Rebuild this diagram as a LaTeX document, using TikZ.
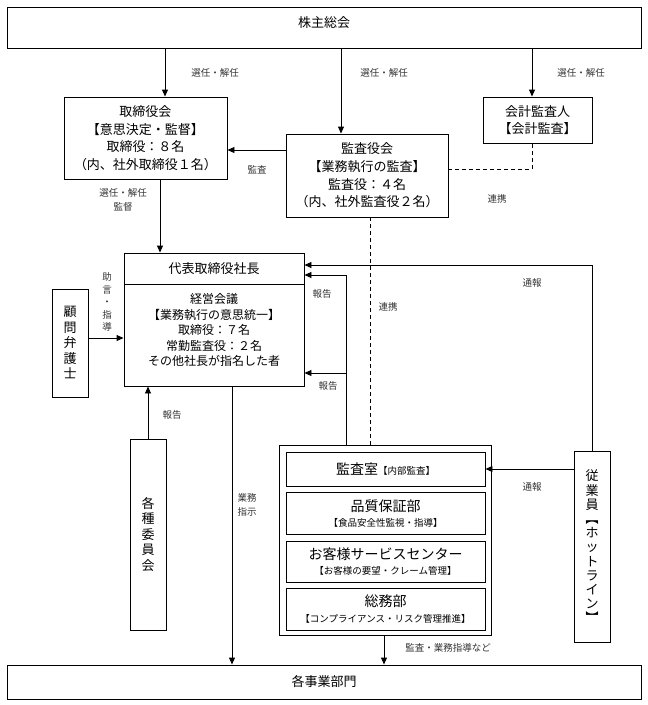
\documentclass[tikz,border=0pt]{standalone}
\usepackage{fontspec}
\setmainfont{Noto Sans CJK JP}
\usetikzlibrary{arrows.meta}
\begin{document}
\begin{tikzpicture}[x=1pt,y=-1pt,
  box/.style={draw, line width=0.9pt, inner sep=0pt, align=center},
  arr/.style={line width=0.9pt, -{Triangle[length=7pt,width=6pt]}},
  dsh/.style={line width=0.9pt, dash pattern=on 4pt off 3pt},
  big/.style={font=\fontsize{13}{17.6}\selectfont},
  mid/.style={font=\fontsize{12}{15.5}\selectfont},
  vert/.style={font=\fontsize{13}{15.5}\selectfont},
  lab/.style={font=\fontsize{9.5}{14.5}\selectfont, text=black!80, align=center, inner sep=0pt},
]
\useasboundingbox (0,0) rectangle (648,705);
\newcommand{\subtxt}[1]{{\fontsize{9.5}{12}\selectfont #1}}

% ---- boxes ----
\node[box, minimum width=634pt, minimum height=41pt] (gm) at (324,27.5) {};
\node[big, inner sep=0pt] (gmtxt) at (324,23) {株主総会};

\node[box, big, minimum width=163pt, minimum height=82pt] (tori) at (145.5,138)
  {取締役会\\【意思決定・監督】\\取締役：８名\\（内、社外取締役１名）};
\node[box, big, minimum width=162pt, minimum height=83pt] (kansa) at (367,175.5)
  {監査役会\\【業務執行の監査】\\監査役：４名\\（内、社外監査役２名）};
\node[box, big, minimum width=109pt, minimum height=46pt] (kaikei) at (537.5,120)
  {会計監査人\\【会計監査】};

\node[box, big, minimum width=180pt, minimum height=31pt] (title) at (214,268.5) {代表取締役社長};
\node[box, minimum width=180pt, minimum height=102pt] (mtg) at (214,335) {};
\node[mid, align=center, inner sep=0pt] (mtgtxt) at (214,330)
  {経営会議\\【業務執行の意思統一】\\取締役：７名\\常勤監査役：２名\\その他社長が指名した者};

\node[box, vert, minimum width=36pt, minimum height=108pt] (komon) at (70,343)
  {顧\\問\\弁\\護\\士};
\node[box, vert, minimum width=36pt, minimum height=191pt] (iinkai) at (148,534.5)
  {各\\種\\委\\員\\会};
\node[box, font=\fontsize{13}{14.2}\selectfont, minimum width=36pt, minimum height=191pt] (jugyo) at (592,546.5)
  {従\\業\\員\\︻\\ホ\\ッ\\ト\\ラ\\イ\\ン\\︼};

\node[box, minimum width=212pt, minimum height=190pt] (grp) at (385,540) {};
\node[box, minimum width=199pt, minimum height=34pt, font=\fontsize{14}{15}\selectfont] (d1) at (385.5,469)
  {監査室\subtxt{【内部監査】}};
\node[box, minimum width=199pt, minimum height=42pt, font=\fontsize{14}{15.5}\selectfont] (d2) at (385.5,513.5)
  {品質保証部\\\subtxt{【食品安全性監視・指導】}};
\node[box, minimum width=199pt, minimum height=41pt, font=\fontsize{14}{15.5}\selectfont] (d3) at (385.5,561.5)
  {お客様サービスセンター\\\subtxt{【お客様の要望・クレーム管理】}};
\node[box, minimum width=199pt, minimum height=42pt, font=\fontsize{14}{15.5}\selectfont] (d4) at (385.5,609)
  {総務部\\\subtxt{【コンプライアンス・リスク管理推進】}};

\node[box, minimum width=634pt, minimum height=34pt, font=\fontsize{13}{15}\selectfont] (bottom) at (324,682) {各事業部門};

% ---- reference coordinates ----
\coordinate (xA) at (165,0);
\coordinate (xB) at (341,0);
\coordinate (xC) at (532,0);
\coordinate (xD) at (160,0);
\coordinate (xE) at (370,0);
\coordinate (xF) at (346,0);
\coordinate (xI) at (232,0);
\coordinate (xJ) at (384,0);
\coordinate (yK) at (0,150);
\coordinate (yL) at (0,169);
\coordinate (yM) at (0,338);
\coordinate (yN) at (0,265);
\coordinate (yO) at (0,275);
\coordinate (yP) at (0,373);

% ---- connectors ----
\draw[arr] (gm.south -| xA) -- (tori.north -| xA);
\draw[arr] (gm.south -| xB) -- (kansa.north -| xB);
\draw[arr] (gm.south -| xC) -- (kaikei.north -| xC);
\draw[arr] (kansa.west |- yK) -- (tori.east |- yK);
\draw[dsh] (kansa.east |- yL) -| (kaikei.south -| xC);
\draw[dsh] (kansa.south -| xE) -- (grp.north -| xE);
\draw[arr] (tori.south -| xD) -- (title.north -| xD);
\draw[arr] (komon.east |- yM) -- (mtg.west |- yM);
\draw[arr] (jugyo.north) |- (title.east |- yN);
\draw[arr] (grp.north -| xF) |- (title.east |- yO);
\draw[arr] (grp.north -| xF) |- (mtg.east |- yP);
\draw[arr] (iinkai.north) -- (mtg.south -| iinkai.north);
\draw[arr] (mtg.south -| xI) -- (bottom.north -| xI);
\draw[arr] (jugyo.west |- d1.east) -- (d1.east);
\draw[arr] (grp.south -| xJ) -- (bottom.north -| xJ);

% ---- labels ----
\node[lab] (l1) at (215,73) {選任・解任};
\node[lab] (l2) at (384,73) {選任・解任};
\node[lab] (l3) at (581,73) {選任・解任};
\node[lab] (l4) at (257,170) {監査};
\node[lab] (l5) at (497,199) {連携};
\node[lab] (l6) at (388,307) {連携};
\node[lab] (l7) at (123,200) {選任・解任\\監督};
\node[lab, font=\fontsize{9.5}{12.5}\selectfont] (l8) at (107,302) {助\\言\\・\\指\\導};
\node[lab] (l9) at (322,294) {報告};
\node[lab] (l10) at (328,386) {報告};
\node[lab] (l11) at (532,283) {通報};
\node[lab] (l12) at (172,415) {報告};
\node[lab] (l13) at (247,505) {業務\\指示};
\node[lab] (l14) at (532,487) {通報};
\node[lab] (l15) at (448,648) {監査・業務指導など};
\end{tikzpicture}
\end{document}
